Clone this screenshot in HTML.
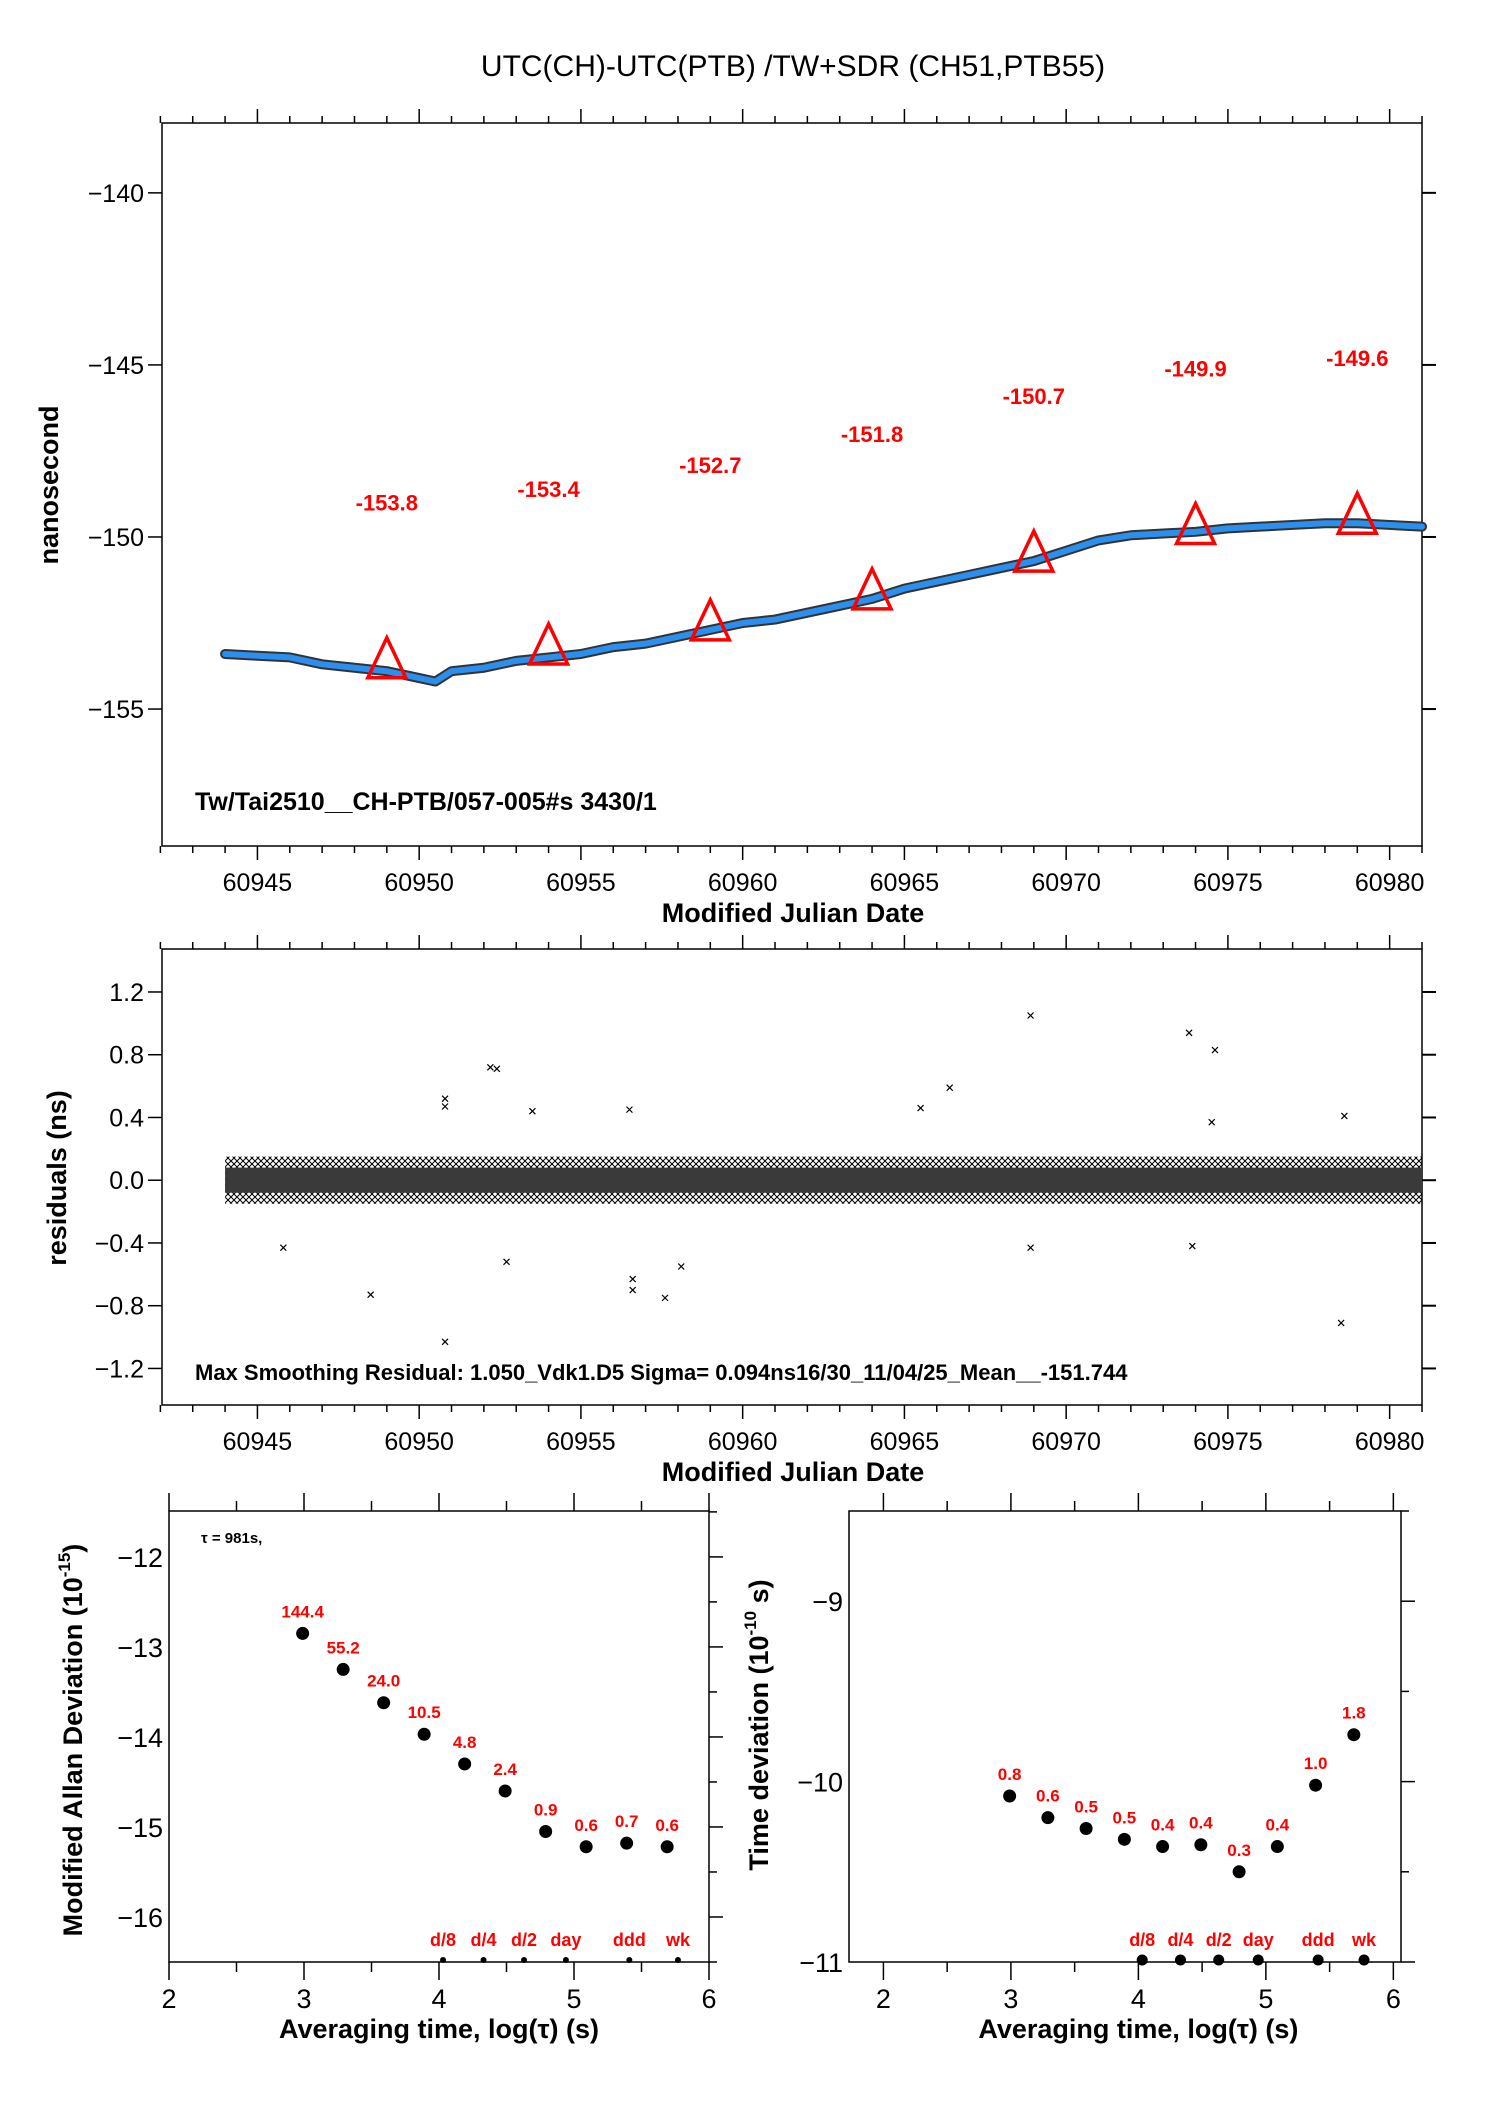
<!DOCTYPE html>
<html><head><meta charset="utf-8">
<style>
html,body{margin:0;padding:0;background:#fff;}
svg{display:block;font-family:"Liberation Sans",sans-serif;}
</style></head>
<body>
<svg id="chart" width="1488" height="2105" viewBox="0 0 1488 2105" xmlns="http://www.w3.org/2000/svg">
<defs>
<pattern id="xpat" width="6" height="6" patternUnits="userSpaceOnUse"><path d="M0,0L6,6M0,6L6,0" stroke="#000" stroke-width="1"/></pattern>
</defs>
<text x="793" y="76" font-size="30" text-anchor="middle">UTC(CH)-UTC(PTB)  /TW+SDR  (CH51,PTB55)</text>
</svg>
<script>
// ---------- data ----------
const mjdCurve = [60944,60945,60946,60947,60948,60949,60950,60950.5,60951,60952,60953,60954,60955,60956,60957,60958,60959,60960,60961,60962,60963,60964,60965,60966,60967,60968,60969,60970,60971,60972,60973,60974,60975,60976,60977,60978,60979,60980,60981];
const nsCurve = [-153.4,-153.45,-153.5,-153.7,-153.8,-153.9,-154.1,-154.2,-153.9,-153.8,-153.6,-153.5,-153.4,-153.2,-153.1,-152.9,-152.7,-152.5,-152.4,-152.2,-152.0,-151.8,-151.5,-151.3,-151.1,-150.9,-150.7,-150.4,-150.1,-149.95,-149.9,-149.85,-149.75,-149.7,-149.65,-149.6,-149.6,-149.65,-149.7];
const triMjd = [60949,60954,60959,60964,60969,60974,60979];
const triVal = [-153.8,-153.4,-152.7,-151.8,-150.7,-149.9,-149.6];
const triLabels = ["-153.8","-153.4","-152.7","-151.8","-150.7","-149.9","-149.6"];
const resBandMjd = [60944,60981];
const resInner = [0.08,0.08];
const resOuter = [0.15,0.15];
const outMjd = [60945.8,60948.5,60950.8,60950.8,60950.8,60952.2,60952.4,60952.7,60953.5,60956.6,60956.6,60956.5,60957.6,60958.1,60965.5,60966.4,60968.9,60968.9,60973.8,60974.6,60973.9,60978.5,60978.6,60974.5];
const outVal = [-0.43,-0.73,-1.03,0.52,0.47,0.72,0.71,-0.52,0.44,-0.63,-0.7,0.45,-0.75,-0.55,0.46,0.59,1.05,-0.43,0.94,0.83,-0.42,-0.91,0.41,0.37];
const adevX = [2.99,3.29,3.59,3.89,4.19,4.49,4.79,5.09,5.39,5.69];
const adevY = [-12.85,-13.25,-13.62,-13.97,-14.3,-14.6,-15.05,-15.22,-15.18,-15.22];
const adevLabels = ["144.4","55.2","24.0","10.5","4.8","2.4","0.9","0.6","0.7","0.6"];
const tdevX = [2.99,3.29,3.59,3.89,4.19,4.49,4.79,5.09,5.39,5.69];
const tdevY = [-10.08,-10.2,-10.26,-10.32,-10.36,-10.35,-10.5,-10.36,-10.02,-9.74];
const tdevLabels = ["0.8","0.6","0.5","0.5","0.4","0.4","0.3","0.4","1.0","1.8"];
const markX = [4.03,4.33,4.63,4.94,5.41,5.77];
const markLabels = ["d/8","d/4","d/2","day","ddd","wk"];
const mjdTicks = [60945,60950,60955,60960,60965,60970,60975,60980];
const topYTicks = [-140,-145,-150,-155];
const topYLabels = ["\u2212140","\u2212145","\u2212150","\u2212155"];
const resYTicks = [1.2,0.8,0.4,0.0,-0.4,-0.8,-1.2];
const resYLabels = ["1.2","0.8","0.4","0.0","\u22120.4","\u22120.8","\u22121.2"];
const adevYTicks = [-12,-13,-14,-15,-16];
const adevYLabels = ["\u221212","\u221213","\u221214","\u221215","\u221216"];
const tdevYTicks = [-9,-10,-11];
const tdevYLabels = ["\u22129","\u221210","\u221211"];
const logTicks = [2,3,4,5,6];

// ---------- helpers ----------
const svg = document.getElementById('chart');
const NS = 'http://www.w3.org/2000/svg';
function mk(tag, attrs, txt){const e=document.createElementNS(NS,tag);for(const k in attrs)e.setAttribute(k,attrs[k]);if(txt!==undefined)e.textContent=txt;svg.appendChild(e);return e;}
function lin(d0,d1,r0,r1){return v=>r0+(v-d0)*(r1-r0)/(d1-d0);}

function frame(L,T,R,B,name){
  const r=mk('rect',{x:L,y:T,width:R-L,height:B-T,fill:'none',stroke:'#000','stroke-width':1.5});
  
  
}
function xTicksMjd(sx,T,B,labelY){
  for(let m=60942;m<=60981;m++){
    const x=sx(m); const major=(m%5===0);
    const len=major?14:7;
    const t1=mk('line',{x1:x,y1:T,x2:x,y2:T-len,stroke:'#000','stroke-width':1.5});
    
    
    const t2=mk('line',{x1:x,y1:B,x2:x,y2:B+len,stroke:'#000','stroke-width':1.5});
    
    
  }
  mjdTicks.forEach(m=>{
    const t=mk('text',{x:sx(m),y:labelY,'font-size':25,'text-anchor':'middle'},String(m));
    
    
  });
}
function yTicks(sy,L,R,ticks,labels,fs){
  ticks.forEach((v,i)=>{
    const y=sy(v);
    const a=mk('line',{x1:L,y1:y,x2:L-14,y2:y,stroke:'#000','stroke-width':1.5});
    
    
    const b=mk('line',{x1:R,y1:y,x2:R+14,y2:y,stroke:'#000','stroke-width':2});
    
    
    const t=mk('text',{x:L-18,y:y+9,'font-size':fs||25,'text-anchor':'end'},labels[i]);
    
    
  });
}
function cross(x,y,s,sw){
  return mk('path',{d:`M${x-s},${y-s}L${x+s},${y+s}M${x-s},${y+s}L${x+s},${y-s}`,stroke:'#000','stroke-width':sw||1,fill:'none'});
}

// ---------- top plot ----------
const T1={L:162,R:1422,T:123,B:846};
const sx1=lin(60942.05,60981,T1.L,T1.R);
const sy1=lin(-158.98,-137.97,T1.B,T1.T);
frame(T1.L,T1.T,T1.R,T1.B,'top-plot-frame');
xTicksMjd(sx1,T1.T,T1.B,891);
yTicks(sy1,T1.L,T1.R,topYTicks,topYLabels);
{
  const pts=mjdCurve.map((m,i)=>sx1(m)+','+sy1(nsCurve[i])).join(' ');
  const b=mk('polyline',{points:pts,fill:'none',stroke:'#333','stroke-width':10,'stroke-linejoin':'round','stroke-linecap':'round'});
  
  
  const c=mk('polyline',{points:pts,fill:'none',stroke:'#2b8ff0','stroke-width':6,'stroke-linejoin':'round','stroke-linecap':'round'});
  
  
}
triMjd.forEach((m,i)=>{
  const x=sx1(m), y=sy1(triVal[i]);
  const tr=mk('polygon',{points:`${x},${y-30} ${x-19},${y+10} ${x+19},${y+10}`,fill:'none',stroke:'#f00','stroke-width':3.5});
  
  
  const t=mk('text',{x:x,y:y-157,'font-size':22,'font-weight':'bold',fill:'#f00','text-anchor':'middle'},triLabels[i]);
  
  
});
{
  const a=mk('text',{x:195,y:810,'font-size':25,'font-weight':'bold'},'Tw/Tai2510__CH-PTB/057-005#s  3430/1');
  
  
  const xt=mk('text',{x:793,y:922,'font-size':27,'font-weight':'bold','text-anchor':'middle'},'Modified Julian Date');
  
  
  const yt=mk('text',{x:0,y:0,'font-size':27,'font-weight':'bold','text-anchor':'middle',transform:'translate(58,485) rotate(-90)'},'nanosecond');
  
  
}

// ---------- residual plot ----------
const T2={L:162,R:1422,T:949,B:1405};
const sy2=lin(-1.433,1.474,T2.B,T2.T);
frame(T2.L,T2.T,T2.R,T2.B,'residual-plot-frame');
xTicksMjd(sx1,T2.T,T2.B,1450);
yTicks(sy2,T2.L,T2.R,resYTicks,resYLabels);
{
  const x0=sx1(resBandMjd[0]), x1=sx1(resBandMjd[1]);
  const o=mk('polygon',{points:`${x0},${sy2(resOuter[0])} ${x1},${sy2(resOuter[1])} ${x1},${sy2(-resOuter[1])} ${x0},${sy2(-resOuter[0])}`,fill:'url(#xpat)'});
  
  
  const n=mk('polygon',{points:`${x0},${sy2(resInner[0])} ${x1},${sy2(resInner[1])} ${x1},${sy2(-resInner[1])} ${x0},${sy2(-resInner[0])}`,fill:'#3a3a3a'});
  
  
}
outMjd.forEach((m,i)=>{
  const p=cross(sx1(m),sy2(outVal[i]),3,1.2);
  
  
});
{
  const a=mk('text',{x:195,y:1380,'font-size':22,'font-weight':'bold'},'Max Smoothing Residual: 1.050_Vdk1.D5  Sigma= 0.094ns16/30_11/04/25_Mean__-151.744');
  
  
  const xt=mk('text',{x:793,y:1481,'font-size':27,'font-weight':'bold','text-anchor':'middle'},'Modified Julian Date');
  
  
  const yt=mk('text',{x:0,y:0,'font-size':27,'font-weight':'bold','text-anchor':'middle',transform:'translate(66,1178) rotate(-90)'},'residuals (ns)');
  
  
}

// ---------- stability plots ----------
function stabPlot(P,xd,yd,yt,ytl,xs,ys,labs,name){
  const sx=lin(xd[0],xd[1],P.L,P.R), sy=lin(yd[0],yd[1],P.B,P.T);
  frame(P.L,P.T,P.R,P.B,name+'-frame');
  for(let v=2;v<=6;v+=0.5){
    const x=sx(v), len=(v%1===0)?18:10;
    const a=mk('line',{x1:x,y1:P.T,x2:x,y2:P.T-len,stroke:'#000','stroke-width':1.5});
    
    
    const b=mk('line',{x1:x,y1:P.B,x2:x,y2:P.B+len,stroke:'#000','stroke-width':1.5});
    
    
  }
  logTicks.forEach(v=>{
    const t=mk('text',{x:sx(v),y:P.B+46,'font-size':27,'text-anchor':'middle'},String(v));
    
    
  });
  for(let v=Math.ceil(yd[0]*2)/2;v<=yd[1];v+=0.5){
    const y=sy(v), len=(Math.abs(v%1)<1e-9)?14:8;
    const a=mk('line',{x1:P.R,y1:y,x2:P.R+len,y2:y,stroke:'#000','stroke-width':1.5});
    
    
  }
  yt.forEach((v,i)=>{
    const y=sy(v);
    const t=mk('text',{x:P.L-6,y:y+10,'font-size':27,'text-anchor':'end'},ytl[i]);
    
    
  });
  xs.forEach((v,i)=>{
    const c=mk('circle',{cx:sx(v),cy:sy(ys[i]),r:6.5,fill:'#000'});
    
    
    const t=mk('text',{x:sx(v),y:sy(ys[i])-16,'font-size':17,'font-weight':'bold',fill:'#f00','text-anchor':'middle'},labs[i]);
    
    
  });
  markX.forEach((v,i)=>{
    const c=mk('circle',{cx:sx(v),cy:P.B-2,r:name==='tdev'?5.5:3,fill:'#000'});
    
    
    const t=mk('text',{x:sx(v),y:P.B-16,'font-size':18,'font-weight':'bold',fill:'#f00','text-anchor':'middle'},markLabels[i]);
    
    
  });
  const xt=mk('text',{x:(sx(2)+sx(6))/2,y:P.B+76,'font-size':27,'font-weight':'bold','text-anchor':'middle'},'Averaging time, log(\u03C4) (s)');
  
  
  return {sx,sy};
}
const P3={L:169,R:709,T:1511,B:1962};
stabPlot(P3,[2,6],[-16.5,-11.49],adevYTicks,adevYLabels,adevX,adevY,adevLabels,'adev');
const P4={L:849,R:1401,T:1511,B:1962};
stabPlot(P4,[1.73,6.06],[-11,-8.5],tdevYTicks,tdevYLabels,tdevX,tdevY,tdevLabels,'tdev');
{
  const a=mk('text',{x:201,y:1543,'font-size':15,'font-weight':'bold'},'\u03C4 = 981s,');
  
  
  const y1=mk('text',{x:0,y:0,'font-size':27,'font-weight':'bold','text-anchor':'middle',transform:'translate(82,1740) rotate(-90)'});
  y1.innerHTML='Modified Allan Deviation (10<tspan font-size="17" dy="-12">-15</tspan><tspan dy="12">)</tspan>';
  
  
  const y2=mk('text',{x:0,y:0,'font-size':27,'font-weight':'bold','text-anchor':'middle',transform:'translate(768,1725) rotate(-90)'});
  y2.innerHTML='Time deviation (10<tspan font-size="17" dy="-12">-10</tspan><tspan dy="12"> s)</tspan>';
  
  
}
</script>
</body></html>
